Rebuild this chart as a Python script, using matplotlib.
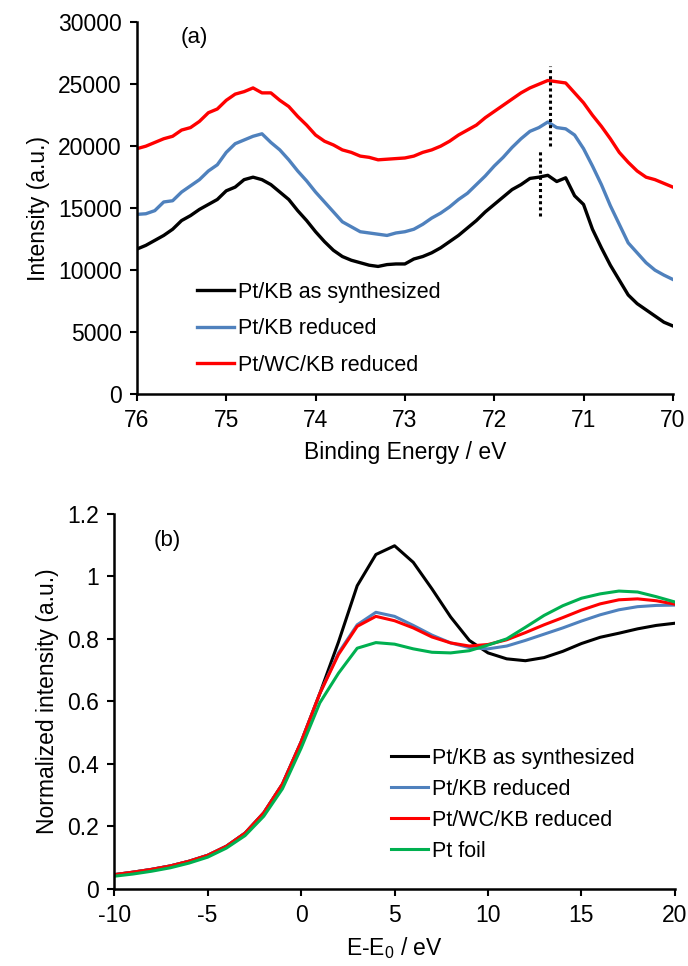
import matplotlib
matplotlib.use('Agg')
import matplotlib.pyplot as plt
import numpy as np

plt.rcParams['font.family'] = ['Liberation Sans', 'DejaVu Sans']
plt.rcParams['font.size'] = 16
plt.rcParams['axes.unicode_minus'] = False

# (a) XPS Pt 4f, binding energy from 76.0 down to 70.0 eV in 0.1 eV steps
be = np.round(np.arange(76.0, 69.95, -0.1), 1)
xps_synth = [11700, 12000, 12400, 12800, 13300, 14000, 14400, 14900, 15300, 15700,
             16400, 16700, 17300, 17500, 17300, 16900, 16300, 15700, 14800, 14000,
             13100, 12300, 11600, 11100, 10800, 10600, 10400, 10300, 10450, 10500,
             10500, 10900, 11100, 11400, 11800, 12300, 12800, 13400, 14000, 14700,
             15300, 15900, 16500, 16900, 17400, 17500, 17650, 17150, 17450, 16000,
             15300, 13300, 11800, 10400, 9200, 8000, 7300, 6800, 6300, 5800, 5500]
xps_red = [14500, 14550, 14800, 15500, 15600, 16300, 16800, 17300, 18000, 18500,
           19500, 20200, 20500, 20800, 21000, 20300, 19700, 18900, 18000, 17200,
           16300, 15500, 14700, 13900, 13500, 13100, 13000, 12900, 12800, 13000,
           13100, 13300, 13700, 14200, 14600, 15100, 15700, 16200, 16900, 17600,
           18400, 19100, 19900, 20600, 21200, 21500, 21950, 21500, 21400, 20900,
           19800, 18400, 16900, 15200, 13700, 12200, 11400, 10600, 10000, 9600, 9250]
xps_wc = [19800, 20000, 20300, 20600, 20800, 21300, 21500, 22000, 22700, 23000,
          23700, 24200, 24400, 24700, 24300, 24300, 23700, 23200, 22400, 21700,
          20900, 20400, 20100, 19700, 19500, 19200, 19100, 18900, 18950, 19000,
          19050, 19200, 19500, 19700, 20000, 20400, 20900, 21300, 21700, 22300,
          22800, 23300, 23800, 24300, 24700, 25000, 25300, 25200, 25100, 24300,
          23500, 22500, 21600, 20600, 19500, 18700, 18000, 17500, 17300, 17000, 16700]

# peak markers (position, ymin, ymax)
peak_synth = (71.49, 14400, 19800)
peak_red = (71.38, 20000, 26500)

# (b) XANES Pt L3, E-E0 from -10 to 20 eV
de = np.arange(-10, 21, 1)
xan_synth = [0.045, 0.053, 0.062, 0.073, 0.088, 0.107, 0.136, 0.178, 0.243, 0.335,
             0.47, 0.625, 0.79, 0.97, 1.07, 1.098, 1.045, 0.96, 0.87, 0.795,
             0.755, 0.736, 0.73, 0.74, 0.76, 0.785, 0.805, 0.818, 0.832, 0.843, 0.85]
xan_red = [0.045, 0.053, 0.062, 0.073, 0.088, 0.107, 0.136, 0.178, 0.243, 0.335,
           0.47, 0.625, 0.755, 0.845, 0.885, 0.872, 0.843, 0.812, 0.787, 0.772,
           0.768, 0.777, 0.795, 0.815, 0.835, 0.857, 0.877, 0.893, 0.903, 0.907, 0.908]
xan_wc = [0.045, 0.053, 0.062, 0.073, 0.088, 0.107, 0.136, 0.178, 0.243, 0.335,
          0.47, 0.625, 0.75, 0.84, 0.872, 0.858, 0.835, 0.806, 0.787, 0.777,
          0.782, 0.797, 0.82, 0.845, 0.868, 0.892, 0.912, 0.925, 0.928, 0.922, 0.911]
xan_foil = [0.04, 0.047, 0.056, 0.067, 0.082, 0.101, 0.13, 0.17, 0.232, 0.32,
            0.45, 0.595, 0.69, 0.77, 0.788, 0.783, 0.768, 0.757, 0.755, 0.762,
            0.78, 0.8, 0.837, 0.875, 0.906, 0.93, 0.944, 0.953, 0.95, 0.935, 0.918]

labels = ['Pt/KB as synthesized', 'Pt/KB reduced', 'Pt/WC/KB reduced', 'Pt foil']
colors = ['#000000', '#4F81BD', '#FF0000', '#00B050']

fig = plt.figure(figsize=(6.88, 9.66), dpi=100)
ax1 = fig.add_axes([0.199, 0.592, 0.779, 0.385])
ax2 = fig.add_axes([0.166, 0.080, 0.815, 0.388])

def style(ax):
    for s in ['top', 'right']:
        ax.spines[s].set_visible(False)
    for s in ['left', 'bottom']:
        ax.spines[s].set_linewidth(1.8)
    ax.tick_params(direction='out', length=5, width=1.5, pad=6, labelsize=16.5)

# panel (a)
for y, lab, c in zip([xps_synth, xps_red, xps_wc], labels, colors):
    ax1.plot(be, y, color=c, lw=2.4, label=lab)
for x0, y0, y1 in [peak_synth, peak_red]:
    ax1.vlines(x0, y0, y1, colors='black', linestyles=(0, (1, 1)), lw=2.2)
ax1.set_xlim(76, 70)
ax1.set_ylim(0, 30000)
ax1.set_xticks(np.arange(76, 69, -1))
ax1.set_yticks(np.arange(0, 30001, 5000))
ax1.set_xlabel('Binding Energy / eV', labelpad=6, fontsize=16.5)
ax1.set_ylabel('Intensity (a.u.)', labelpad=6, fontsize=16.5)
ax1.text(0.108, 0.96, '(a)', transform=ax1.transAxes, ha='center', va='center')
style(ax1)
ax1.legend(loc='upper left', bbox_to_anchor=(0.112, 0.302), frameon=False,
           handlelength=1.7, handletextpad=0.2, labelspacing=0.72,
           borderpad=0, borderaxespad=0, fontsize=15.5)

# panel (b)
for y, lab, c in zip([xan_synth, xan_red, xan_wc, xan_foil], labels, colors):
    ax2.plot(de, y, color=c, lw=2.2, label=lab)
ax2.set_xlim(-10, 20)
ax2.set_ylim(0, 1.2)
ax2.set_xticks(np.arange(-10, 21, 5))
ax2.set_yticks(np.arange(0, 1.21, 0.2))
ax2.set_yticklabels(['0', '0.2', '0.4', '0.6', '0.8', '1', '1.2'])
ax2.set_xlabel('E-E$\\mathregular{_0}$ / eV', labelpad=6, fontsize=16.5)
ax2.set_ylabel('Normalized intensity (a.u.)', labelpad=6, fontsize=16.5)
ax2.text(0.094, 0.928, '(b)', transform=ax2.transAxes, ha='center', va='center')
style(ax2)
ax2.legend(loc='upper left', bbox_to_anchor=(0.494, 0.376), frameon=False,
           handlelength=1.7, handletextpad=0.2, labelspacing=0.46,
           borderpad=0, borderaxespad=0, fontsize=15.5)

fig.savefig('out.png', dpi=100)
